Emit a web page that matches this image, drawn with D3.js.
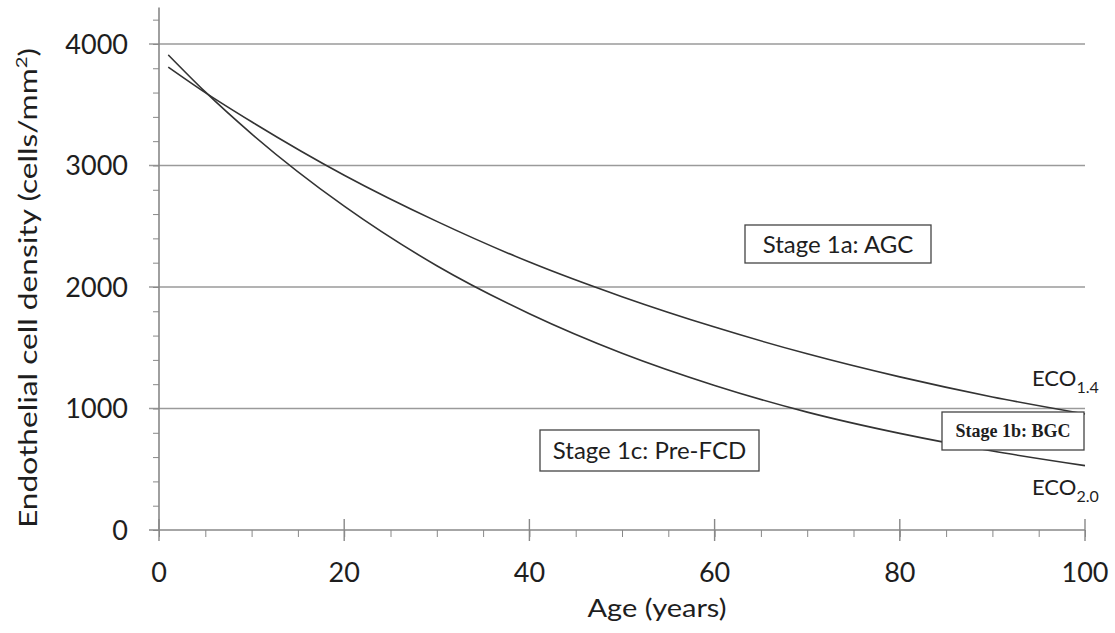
<!DOCTYPE html>
<html>
<head>
<meta charset="utf-8">
<script src="https://cdn.jsdelivr.net/npm/d3@7"></script>
<style>
  body { margin: 0; background: #fff; }
  text { font-family: Lato, "Open Sans", sans-serif; fill: #1e1e1e; }
</style>
</head>
<body>
<svg id="grafico"></svg>
<script>
// dados (idade em anos, densidade em células/mm²)
var idades = [1, 5, 10, 20, 30, 40, 50, 60, 70, 80, 90, 100];
var eco14 = [3810, 3600, 3360, 2920, 2540, 2205, 1920, 1670, 1450, 1260, 1095, 955];
var eco20 = [3910, 3605, 3260, 2665, 2175, 1780, 1455, 1190, 970, 795, 650, 530];
var ticksX = [0, 20, 40, 60, 80, 100];
var ticksY = [0, 1000, 2000, 3000, 4000];

var largura = 1115, altura = 633;
var svg = d3.select('#grafico').attr('width', largura).attr('height', altura);

var x = d3.scaleLinear().domain([0, 100]).range([159, 1085]);
var y = d3.scaleLinear().domain([0, 4300]).range([530, 7.5]);

//linhas de grade
svg.append('g').selectAll('line').data(ticksY.slice(1)).enter().append('line')
   .attr('x1', 149).attr('x2', 1085)
   .attr('y1', d => y(d)).attr('y2', d => y(d))
   .attr('stroke', '#9a9a9a').attr('stroke-width', 1.6);

//eixo Y
var eixoYMenor = d3.axisLeft(y).tickValues(d3.range(0, 4201, 200)).tickSize(6).tickFormat('');
var gY = svg.append('g').attr('transform', 'translate(159,0)').call(eixoYMenor);
gY.select('.domain').remove();
gY.selectAll('line').attr('stroke', '#888');
svg.append('line').attr('x1', 159).attr('x2', 159).attr('y1', 7.5).attr('y2', 531)
   .attr('stroke', '#888').attr('stroke-width', 1.6);
svg.append('g').selectAll('text').data(ticksY).enter().append('text')
   .attr('x', 128).attr('y', d => y(d) + 10)
   .attr('text-anchor', 'end').style('font-size', '27px')
   .text(d => d);

//eixo X
var eixoXMenor = d3.axisBottom(x).tickValues(d3.range(0, 101, 5)).tickSize(7).tickFormat('');
var gX = svg.append('g').attr('transform', 'translate(0,530)').call(eixoXMenor);
gX.select('.domain').remove();
gX.selectAll('line').attr('stroke', '#888');
svg.append('line').attr('x1', 149).attr('x2', 1085).attr('y1', 530).attr('y2', 530)
   .attr('stroke', '#888').attr('stroke-width', 1.6);
svg.append('g').selectAll('line').data(ticksX).enter().append('line')
   .attr('x1', d => x(d)).attr('x2', d => x(d)).attr('y1', 519).attr('y2', 541)
   .attr('stroke', '#888').attr('stroke-width', 1.4);
svg.append('g').selectAll('text').data(ticksX).enter().append('text')
   .attr('x', d => x(d)).attr('y', 582)
   .attr('text-anchor', 'middle').style('font-size', '27px')
   .text(d => d);

//títulos dos eixos
svg.append('text').attr('x', 657).attr('y', 617).attr('text-anchor', 'middle')
   .style('font-size', '25px').attr('textLength', 139).attr('lengthAdjust', 'spacingAndGlyphs')
   .text('Age (years)');
var tituloY = svg.append('text').attr('text-anchor', 'middle')
   .attr('transform', 'translate(37,288) rotate(-90)').style('font-size', '25px')
   .attr('textLength', 480).attr('lengthAdjust', 'spacingAndGlyphs');
tituloY.append('tspan').text('Endothelial cell density (cells/mm');
tituloY.append('tspan').attr('dy', -10).style('font-size', '16px').text('2');
tituloY.append('tspan').attr('dy', 10).text(')');

//curvas
var linha = d3.line().x((d, i) => x(idades[i])).y(d => y(d)).curve(d3.curveMonotoneX);
[eco14, eco20].forEach(function(serie) {
  svg.append('path').datum(serie).attr('d', linha)
     .attr('fill', 'none').attr('stroke', '#333').attr('stroke-width', 1.6);
});

//rótulos das curvas
function rotuloEco(px, py, sub) {
  var t = svg.append('text').attr('x', px).attr('y', py).style('font-size', '22px');
  t.append('tspan').text('ECO');
  t.append('tspan').attr('dy', 7).style('font-size', '16px').text(sub);
}
rotuloEco(1032, 386, '1.4');
rotuloEco(1032, 495, '2.0');

//caixas dos estágios
function caixa(x0, y0, w, h, texto, tamanho, familia, peso, base) {
  svg.append('rect').attr('x', x0).attr('y', y0).attr('width', w).attr('height', h)
     .attr('fill', '#fff').attr('stroke', '#444').attr('stroke-width', 1.3);
  svg.append('text').attr('x', x0 + w / 2).attr('y', base)
     .attr('text-anchor', 'middle').style('font-size', tamanho + 'px')
     .style('font-family', familia).style('font-weight', peso).text(texto);
}
caixa(745, 225, 186, 38, 'Stage 1a: AGC', 24, 'Lato', 'normal', 253);
caixa(540, 430, 219, 41, 'Stage 1c: Pre-FCD', 24, 'Lato', 'normal', 459);
caixa(942, 412, 142, 38, 'Stage 1b: BGC', 18, '"Liberation Serif", serif', 'bold', 437);
</script>
</body>
</html>
